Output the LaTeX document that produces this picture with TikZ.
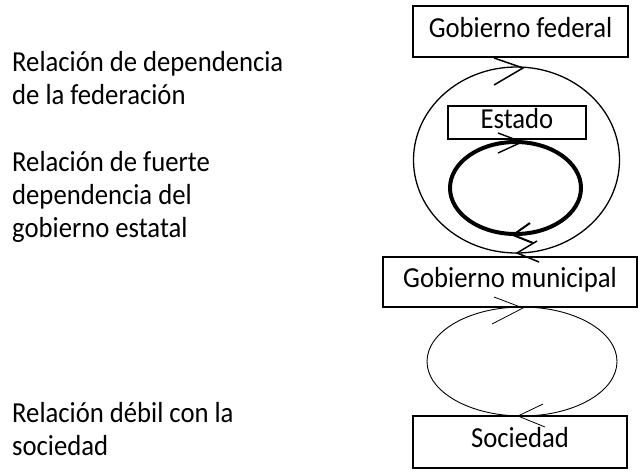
\documentclass[tikz,border=0pt]{standalone}
\usepackage{fontspec}
\setmainfont[FakeStretch=0.92]{Carlito}
\begin{document}
\begin{tikzpicture}[x=1pt,y=-1pt,
  txt/.style={font=\fontsize{29}{33}\selectfont, inner sep=0pt, align=left, anchor=base west},
  box/.style={draw, line width=1.1pt, inner sep=0pt, font=\fontsize{29}{33}\selectfont,
              text height=18pt, text depth=7pt},
  arm/.style={line width=1.2pt}]
\useasboundingbox (0,0) rectangle (643,472);
% left texts (anchored at the baseline of their last line)
\node[txt] (t1) at (12,104) {Relación de dependencia\\de la federación};
\node[txt] (t2) at (12,237) {Relación de fuerte\\dependencia del\\gobierno estatal};
\node[txt] (t3) at (12,455) {Relación débil con la\\sociedad};
% boxes
\node[box, minimum width=215pt, minimum height=51pt] (fed) at (520.5,31.5) {Gobierno federal};
\node[box, minimum width=138pt, minimum height=33pt] (est) at (517,122.5) {Estado};
\node[box, minimum width=254pt, minimum height=50pt] (mun) at (510,282) {Gobierno municipal};
\node[box, minimum width=214pt, minimum height=52pt] (soc) at (520,442) {Sociedad};
% ellipses
\draw[line width=1.3pt] (516.5,160) ellipse [x radius=103, y radius=93];
\draw[line width=4pt] (515.5,188) ellipse [x radius=65.5, y radius=46];
\draw[line width=0.9pt] (522,361.5) ellipse [x radius=95, y radius=54.5];
% arrowheads
\draw[arm, line width=1.5pt] (494,58) -- (523,68) -- (494,85);
\draw[arm, line width=1.4pt] (498,133) -- (522,142) -- (498,153);
\draw[arm, line width=2pt] (530,223) -- (513,235) -- (533,243);
\draw[arm, line width=1.5pt] (537,241) -- (517,253) -- (539,262);
\draw[arm, line width=0.8pt] (494,297) -- (523,308) -- (492,324);
\draw[arm, line width=0.8pt] (543,404) -- (518,416) -- (545,427);
\end{tikzpicture}
\end{document}
